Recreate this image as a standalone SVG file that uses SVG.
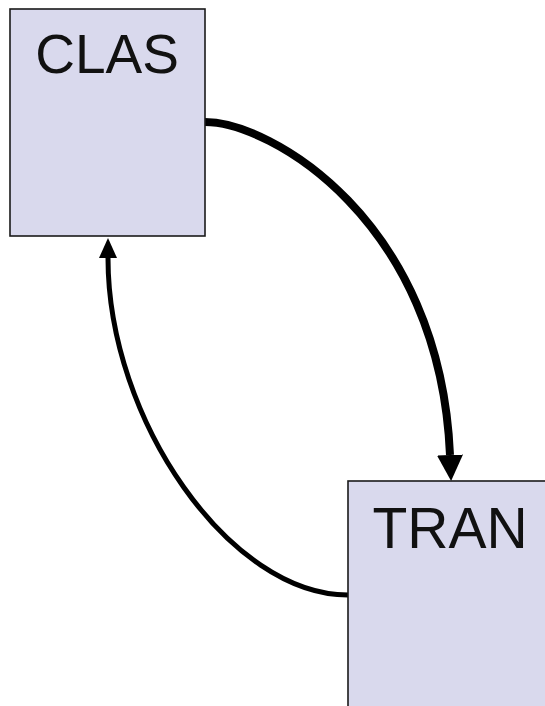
<svg xmlns="http://www.w3.org/2000/svg" width="545" height="706" viewBox="0 0 545 706">
<style>
.box{fill:#d9d9ed;stroke:#1a1a1a;stroke-width:1.6}
.lbl{font-family:"Liberation Sans",Arial,sans-serif;fill:#111;text-anchor:middle}
.edge{fill:none;stroke:#000;stroke-linecap:butt}
</style>
<defs>
<marker id="ahThick" markerUnits="userSpaceOnUse" markerWidth="30" markerHeight="30" refX="0" refY="14" orient="auto" viewBox="0 0 30 28">
<path d="M0,1 L26,14 L0,27 z" fill="#000"/>
</marker>
<marker id="ahThin" markerUnits="userSpaceOnUse" markerWidth="24" markerHeight="24" refX="0" refY="10" orient="auto" viewBox="0 0 24 20">
<path d="M0,1 L20,10 L0,19 z" fill="#000"/>
</marker>
</defs>
<rect width="545" height="706" fill="#fff"/>
<g id="connectors">
<path class="edge" d="M205,122 C270,122 440,220 450,455" stroke-width="8" marker-end="url(#ahThick)"/>
<path class="edge" d="M348,595 C230,595 108,420 108,258" stroke-width="5" marker-end="url(#ahThin)"/>
</g>
<g id="node-clas">
<rect class="box" x="10" y="9" width="195" height="227"/>
<text class="lbl" x="107" y="73" font-size="55">CLAS</text>
</g>
<g id="node-tran">
<rect class="box" x="348" y="481" width="210" height="240"/>
<text class="lbl" x="450" y="548" font-size="57">TRAN</text>
</g>
</svg>
